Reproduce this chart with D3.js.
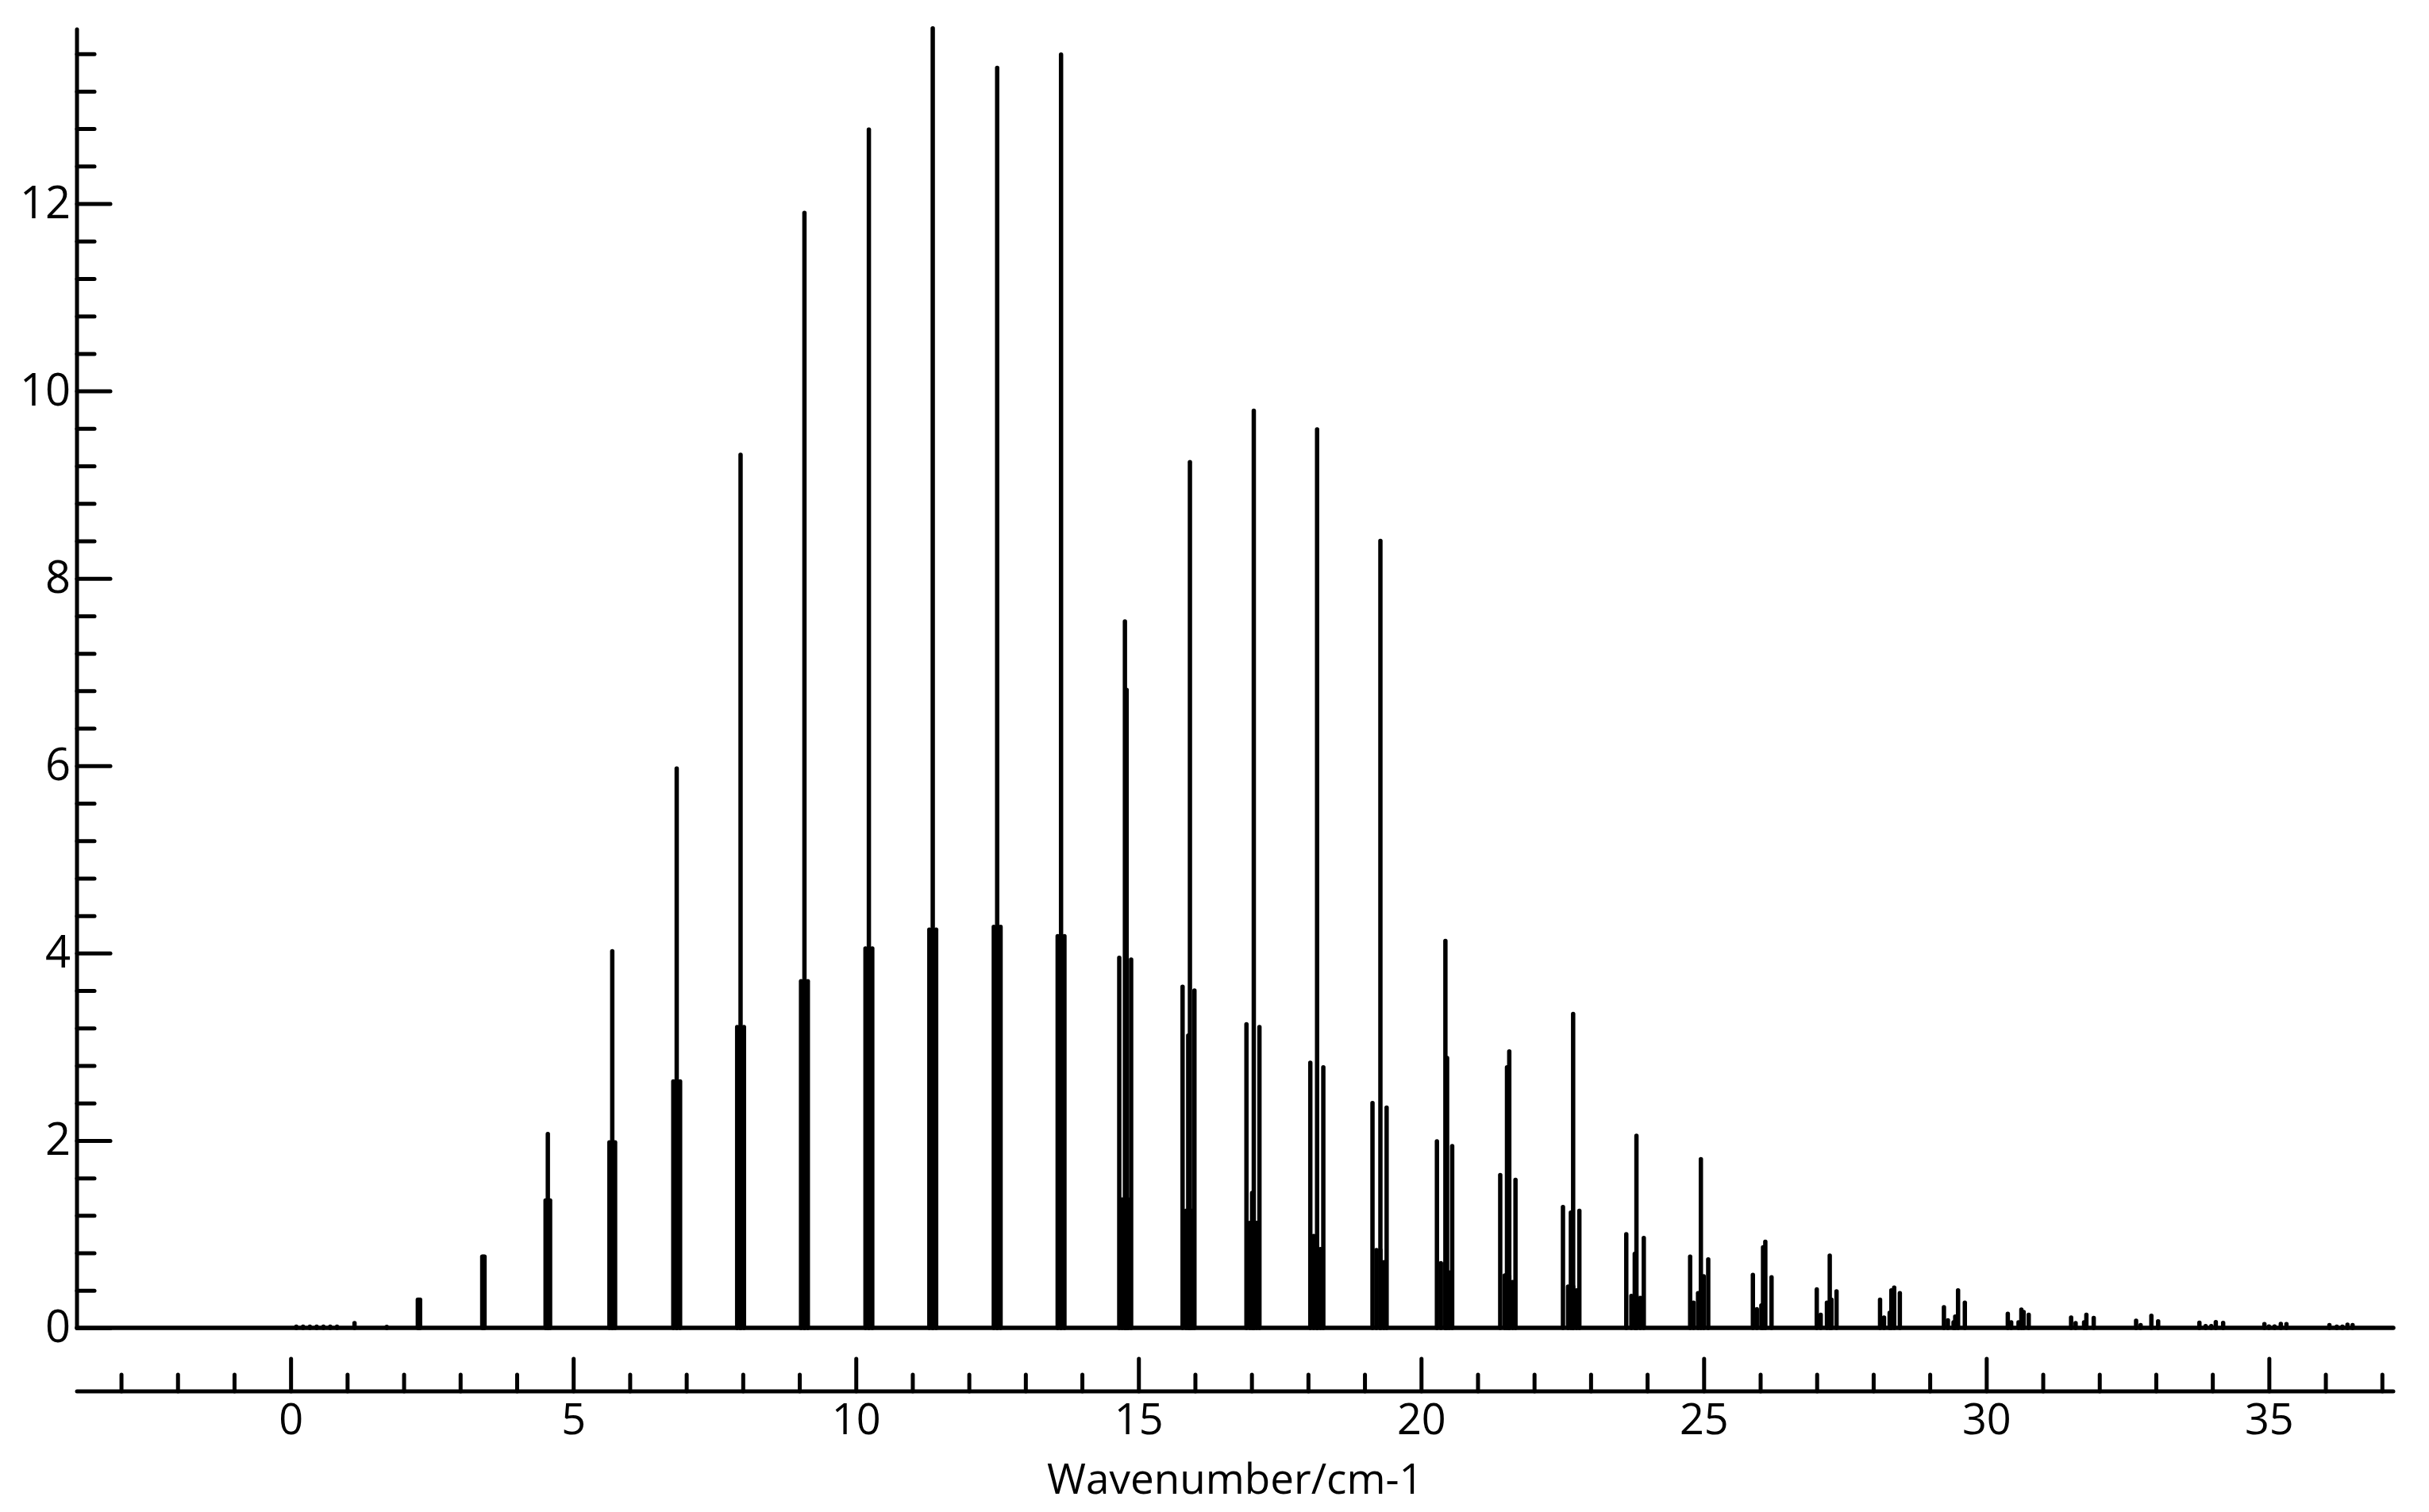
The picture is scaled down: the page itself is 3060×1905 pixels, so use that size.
<!DOCTYPE html>
<html>
<head>
<meta charset="utf-8">
<script src="https://cdn.jsdelivr.net/npm/d3@7"></script>
<style>
  html, body { margin: 0; padding: 0; background: #fff; }
  svg { display: block; }
</style>
</head>
<body>
<div id="chart"></div>
<script>
// strongest line of every rotational band: [wavenumber, intensity]
const centralLines = [
  [2.27, 0.30], [3.41, 0.76], [4.55, 2.07], [5.69, 4.02], [6.83, 5.97], [7.96, 9.32],
  [9.09, 11.90], [10.23, 12.79], [11.36, 13.87], [12.50, 13.45], [13.63, 13.59],
  [14.76, 7.54], [15.91, 9.24], [17.04, 9.79], [18.16, 9.59], [19.28, 8.40],
  [20.43, 4.13], [21.56, 2.95], [22.69, 3.35], [23.81, 2.05], [24.95, 1.80],
  [26.09, 0.92], [27.23, 0.77], [28.37, 0.43], [29.50, 0.40], [30.62, 0.195],
  [31.77, 0.14], [32.92, 0.13], [34.06, 0.062], [35.21, 0.042], [36.39, 0.034]
];

// second component sitting next to the central line
const secondLines = [
  [14.79, 6.81], [15.88, 3.12], [17.01, 1.44], [20.46, 2.88], [21.52, 2.78], [22.65, 1.23],
  [23.78, 0.79], [25.00, 0.55], [26.05, 0.86], [27.26, 0.30], [28.32, 0.40], [29.45, 0.12],
  [30.66, 0.17], [31.73, 0.06]
];

// outer satellites of each band
const leftLines = [
  [14.66, 3.95], [15.78, 3.64], [16.91, 3.24], [18.04, 2.83], [19.14, 2.40], [20.28, 1.99],
  [21.40, 1.63], [22.51, 1.29], [23.63, 1.00], [24.76, 0.76], [25.87, 0.565], [27.00, 0.41],
  [28.12, 0.30], [29.25, 0.22], [30.38, 0.15], [31.50, 0.11], [32.65, 0.076], [33.77, 0.056],
  [34.92, 0.04], [36.07, 0.03]
];
const rightLines = [
  [14.87, 3.93], [15.99, 3.60], [17.14, 3.21], [18.27, 2.78], [19.39, 2.35], [20.55, 1.94],
  [21.67, 1.58], [22.80, 1.25], [23.94, 0.96], [25.08, 0.73], [26.20, 0.54], [27.35, 0.39],
  [28.47, 0.37], [29.62, 0.27], [30.75, 0.14], [31.90, 0.105], [33.04, 0.07], [34.19, 0.054],
  [35.31, 0.04], [36.48, 0.03]
];

// unresolved core of the bands (closely packed lines)
const coreLines = [
  [2.25, 0.30], [2.29, 0.30], [3.39, 0.76], [3.43, 0.76],
  [4.51, 1.36], [4.55, 1.36], [4.59, 1.36],
  [5.64, 1.98], [5.69, 1.98], [5.74, 1.98],
  [6.77, 2.63], [6.83, 2.63], [6.89, 2.63],
  [7.90, 3.21], [7.96, 3.21], [8.02, 3.21],
  [9.03, 3.70], [9.09, 3.70], [9.15, 3.70],
  [10.17, 4.05], [10.23, 4.05], [10.29, 4.05],
  [11.30, 4.25], [11.36, 4.25], [11.42, 4.25],
  [12.44, 4.28], [12.50, 4.28], [12.56, 4.28],
  [13.57, 4.18], [13.63, 4.18], [13.69, 4.18],
  [14.71, 1.37], [14.76, 1.37], [14.82, 1.37],
  [15.84, 1.25], [15.91, 1.25], [15.95, 1.25],
  [16.97, 1.12], [17.04, 1.12], [17.09, 1.12],
  [18.10, 0.98], [18.16, 0.98], [18.22, 0.84],
  [19.21, 0.83], [19.28, 0.83], [19.34, 0.70],
  [20.35, 0.69], [20.43, 0.69], [20.50, 0.59],
  [21.48, 0.56], [21.56, 0.56], [21.62, 0.49],
  [22.60, 0.44], [22.69, 0.44], [22.75, 0.40],
  [23.72, 0.34], [23.81, 0.34], [23.88, 0.32]
];

// weak lines of the high and low J tails
const weakLines = [
  [0.10, 0.012], [0.22, 0.012], [0.34, 0.012], [0.46, 0.012], [0.58, 0.012], [0.70, 0.012],
  [0.82, 0.012], [1.13, 0.05], [1.70, 0.01],
  [24.82, 0.27], [24.90, 0.37], [25.94, 0.20], [26.02, 0.24], [27.07, 0.14], [27.18, 0.27],
  [28.19, 0.11], [28.29, 0.16], [29.32, 0.08], [29.42, 0.06], [30.44, 0.06], [30.57, 0.06],
  [31.58, 0.05], [32.73, 0.03], [33.88, 0.02], [33.98, 0.02], [35.00, 0.015], [35.10, 0.015],
  [36.20, 0.012], [36.30, 0.012]
];

const yTickLabels = [0, 2, 4, 6, 8, 10, 12];
const xTickLabels = [0, 5, 10, 15, 20, 25, 30, 35];

const width = 3060, height = 1905;
const fontFamily = '"Open Sans", "Noto Sans", sans-serif';

const x = d3.scaleLinear().domain([-3.78, 37.2]).range([97, 3015]);
const y = d3.scaleLinear().domain([0, 13.86]).range([1673, 37]);
const xAxisY = 1753;

const svg = d3.select('#chart').append('svg')
  .attr('width', width)
  .attr('height', height)
  .style('background', '#fff');

// spectrum sticks
const allLines = [].concat(coreLines, weakLines, leftLines, rightLines, secondLines, centralLines);
svg.append('g')
  .attr('stroke', '#000')
  .attr('stroke-width', 5.5)
  .attr('stroke-linecap', 'round')
  .selectAll('line')
  .data(allLines)
  .join('line')
  .attr('x1', d => x(d[0]))
  .attr('x2', d => x(d[0]))
  .attr('y1', y(0))
  .attr('y2', d => y(d[1]));

// zero line of the spectrum
svg.append('line')
  .attr('x1', x.range()[0]).attr('x2', x.range()[1])
  .attr('y1', y(0)).attr('y2', y(0))
  .attr('stroke', '#000').attr('stroke-width', 5.5).attr('stroke-linecap', 'round');

// y axis (ticks point inward)
const yMinor = d3.range(0, 13.7, 0.4).filter(v => Math.abs(v / 2 - Math.round(v / 2)) > 1e-6);
const yG = svg.append('g');
yG.append('g')
  .call(d3.axisLeft(y).tickValues(yMinor).tickSize(-22).tickFormat(''))
  .call(g => g.select('.domain').remove());
yG.append('g')
  .call(d3.axisLeft(y).tickValues(yTickLabels).tickSize(-42).tickPadding(8).tickFormat(d3.format('d')))
  .call(g => g.select('.domain').remove());
yG.attr('transform', `translate(${x.range()[0]},0)`);
yG.append('line')
  .attr('x1', 0).attr('x2', 0)
  .attr('y1', y(0)).attr('y2', y.range()[1])
  .attr('stroke', '#000').attr('stroke-width', 5).attr('stroke-linecap', 'round');

// x axis, drawn below the spectrum with upward ticks
const xMinor = d3.range(-3, 38, 1).filter(v => v % 5 !== 0);
const xG = svg.append('g').attr('transform', `translate(0,${xAxisY})`);
xG.append('g')
  .call(d3.axisBottom(x).tickValues(xMinor).tickSize(-21).tickFormat(''))
  .call(g => g.select('.domain').remove());
xG.append('g')
  .call(d3.axisBottom(x).tickValues(xTickLabels).tickSize(-41).tickPadding(16).tickFormat(d3.format('d')))
  .call(g => g.select('.domain').remove());
xG.append('line')
  .attr('x1', x.range()[0]).attr('x2', x.range()[1])
  .attr('y1', 0).attr('y2', 0)
  .attr('stroke', '#000').attr('stroke-width', 5).attr('stroke-linecap', 'round');

svg.selectAll('.tick line')
  .attr('stroke', '#000')
  .attr('stroke-width', 5)
  .attr('stroke-linecap', 'round');
svg.selectAll('.tick text')
  .attr('fill', '#000')
  .style('font-family', fontFamily)
  .style('font-size', '56px');
xG.selectAll('.tick text').style('font-size', '54px');

svg.append('text')
  .attr('x', (x.range()[0] + x.range()[1]) / 2)
  .attr('y', 1882)
  .attr('text-anchor', 'middle')
  .style('font-family', fontFamily)
  .style('font-size', '53px')
  .text('Wavenumber/cm-1');
</script>
</body>
</html>
